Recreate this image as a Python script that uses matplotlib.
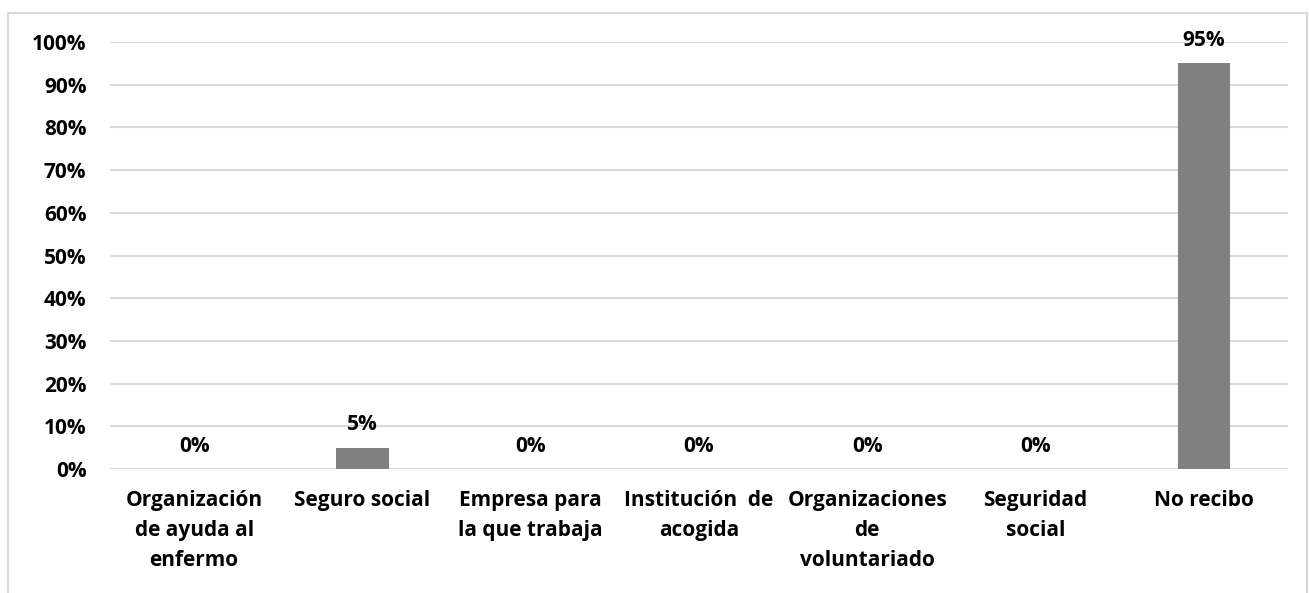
import matplotlib
matplotlib.use('Agg')
import matplotlib.pyplot as plt
from matplotlib.patches import Rectangle
from matplotlib.ticker import PercentFormatter

plt.rcParams['font.family'] = ['Open Sans', 'DejaVu Sans']
plt.rcParams['font.weight'] = 'bold'

# Data
categories = [
    'Organización\nde ayuda al\nenfermo',
    'Seguro social',
    'Empresa para\nla que trabaja',
    'Institución  de\nacogida',
    'Organizaciones\nde\nvoluntariado',
    'Seguridad\nsocial',
    'No recibo',
]
values = [0.0, 0.05, 0.0, 0.0, 0.0, 0.0, 0.95]
value_labels = ['0%', '5%', '0%', '0%', '0%', '0%', '95%']
yticks = [0.0, 0.1, 0.2, 0.3, 0.4, 0.5, 0.6, 0.7, 0.8, 0.9, 1.0]

W, H = 1309, 593
fig = plt.figure(figsize=(W / 100, H / 100), dpi=100)
ax = fig.add_axes([110 / W, 1 - 469 / H, (1288 - 110) / W, (469 - 42) / H])

grid_col = '#d9d9d9'
bar_col = '#808080'
fs = 15

x = list(range(len(categories)))
ax.bar(x, values, width=0.31, color=bar_col, zorder=3)

# data labels above each bar
for xi, v, lab in zip(x, values, value_labels):
    ax.annotate(lab, (xi, v), xytext=(0, 16.5), textcoords='offset points',
                ha='center', va='center', fontsize=fs, fontweight='bold',
                color='black', zorder=4)

ax.set_xlim(-0.5, len(categories) - 0.5)
ax.set_ylim(0, 1.0)
ax.set_yticks(yticks)
ax.yaxis.set_major_formatter(PercentFormatter(1.0, decimals=0))
ax.set_xticks(x)
ax.set_xticklabels(categories, fontsize=fs, fontweight='bold',
                   linespacing=1.56, ha='center', multialignment='center')
ax.tick_params(axis='y', length=0, pad=17, labelsize=fs)
ax.tick_params(axis='x', length=0, pad=15)

ax.grid(axis='y', color=grid_col, linewidth=1.5, zorder=0)
for s in ax.spines.values():
    s.set_visible(False)
ax.axhline(0, color=grid_col, linewidth=1.5, zorder=2)

# chart area border
fig.patches.append(Rectangle((8 / W, -0.1), (1307 - 8) / W, 1.1 - 13 / H,
                             transform=fig.transFigure, fill=False,
                             edgecolor=grid_col, linewidth=1.5))

fig.savefig('out.png', dpi=100, facecolor='white')
